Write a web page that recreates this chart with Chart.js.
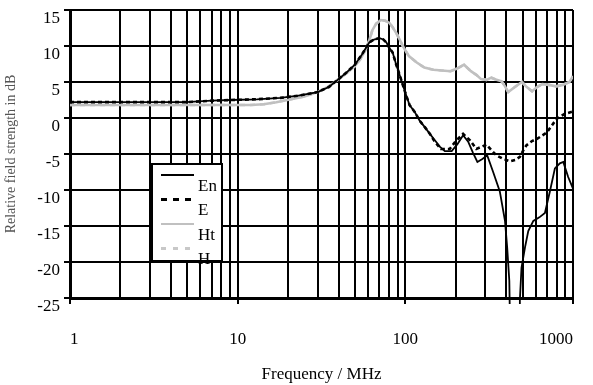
<!DOCTYPE html>
<html>
<head>
<meta charset="utf-8">
<script src="https://cdn.jsdelivr.net/npm/chart.js@4"></script>
<style>
html, body { margin: 0; padding: 0; background: #fff; }
#wrap { width: 593px; height: 385px; position: relative; }
</style>
</head>
<body>
<div id="wrap"><canvas id="fieldChart"></canvas></div>
<script>
// frequencies in MHz, levels in dB
const enFreq = [1, 2, 3, 4.9, 7, 9, 13, 18, 23, 30, 35, 40, 45, 50, 55, 61, 65, 70, 74, 77, 81, 84, 88, 93, 100, 106, 114, 122, 131, 140, 150, 161, 172, 189, 205, 221, 237, 253, 269, 288, 308, 334, 366, 393, 405, 417, 422, 450, 478, 482, 493, 517, 541, 580, 630, 680, 728, 780, 835, 875, 936, 1000];
const enVals = [2.2, 2.2, 2.2, 2.2, 2.4, 2.5, 2.6, 2.8, 3.1, 3.6, 4.3, 5.4, 6.4, 7.4, 8.8, 10.5, 10.9, 11.1, 10.9, 10.5, 9.6, 9.1, 7.5, 5.8, 3.5, 1.8, 0.8, -0.4, -1.3, -2.2, -3.1, -4.0, -4.6, -4.6, -3.6, -2.4, -3.3, -4.8, -6.1, -5.7, -5.2, -7.5, -10.2, -14.3, -18.0, -22.6, -30, -30, -30, -25.3, -20.8, -18.0, -15.7, -14.3, -13.8, -13.2, -10.2, -7.0, -6.3, -6.1, -8.2, -9.8];

const eFreq = [1, 2, 3, 4.9, 7, 9, 13, 18, 23, 30, 35, 40, 45, 50, 55, 61, 65, 70, 74, 77, 81, 84, 88, 93, 100, 106, 114, 122, 131, 140, 150, 163, 184, 200, 221, 243, 265, 285, 305, 330, 350, 385, 421, 455, 482, 505, 527, 570, 610, 700, 750, 800, 890, 1000];
const eVals = [2.2, 2.2, 2.2, 2.2, 2.4, 2.5, 2.6, 2.8, 3.1, 3.6, 4.3, 5.4, 6.4, 7.4, 8.8, 10.5, 10.9, 11.1, 10.9, 10.5, 9.6, 9.1, 7.5, 5.8, 3.5, 1.8, 0.8, -0.4, -1.3, -2.2, -3.3, -4.3, -4.3, -3.2, -2.2, -3.1, -4.3, -4.0, -3.7, -4.6, -5.2, -5.7, -6.0, -5.8, -5.4, -4.5, -3.8, -3.2, -2.9, -2.0, -1.0, -0.1, 0.55, 0.9];

const htFreq = [1, 2, 4, 8, 12, 14.3, 17, 20.8, 25, 30, 35, 40, 45, 50, 54, 58, 61, 63.6, 67, 71.5, 76, 80.4, 84, 88.3, 93, 97, 105, 117, 130, 147, 165, 186, 205, 224, 246, 265, 283, 305, 326, 350, 375, 393, 411, 450, 496, 530, 570, 610, 656, 720, 791, 870, 953, 1000];
const htVals = [1.8, 1.8, 1.8, 1.8, 1.8, 1.9, 2.2, 2.6, 3.0, 3.6, 4.4, 5.4, 6.3, 7.2, 8.2, 9.5, 10.8, 12.2, 13.1, 13.6, 13.5, 13.2, 12.6, 11.8, 10.8, 9.9, 8.6, 7.7, 7.0, 6.7, 6.6, 6.5, 6.9, 7.4, 6.5, 6.0, 5.4, 5.3, 5.6, 5.3, 5.1, 4.4, 3.6, 4.3, 5.0, 4.3, 3.7, 4.3, 4.7, 4.6, 4.4, 4.6, 5.0, 5.8];

// H sits under Ht in the picture
const hFreq = htFreq;
const hVals = htVals;

const xGridValues = [1, 2, 3, 4, 5, 6, 7, 8, 9, 10, 20, 30, 40, 50, 60, 70, 80, 90, 100, 200, 300, 400, 500, 600, 700, 800, 900, 1000];
const xTickValues = [1, 10, 100, 1000];
const xTickLabels = ['1', '10', '100', '1000'];
const yTickValues = [-25, -20, -15, -10, -5, 0, 5, 10, 15];

Chart.defaults.font.family = "'Liberation Serif', 'Times New Roman', serif";
Chart.defaults.color = '#000';

function toPoints(freqs, vals) {
    return freqs.map((f, i) => ({ x: f, y: vals[i] }));
}

const lineClip = { left: 0, top: 0, right: 0, bottom: 6 };

// legend box drawn inside the plot, like the original
const boxLegend = {
    id: 'boxLegend',
    afterDatasetsDraw(chart) {
        const ctx = chart.ctx;
        const left = chart.chartArea.left + 82;
        const top = chart.chartArea.top + 154;
        const w = 70, h = 97;
        ctx.save();
        ctx.fillStyle = '#fff';
        ctx.fillRect(left, top, w, h);
        ctx.strokeStyle = '#000';
        ctx.lineWidth = 2;
        ctx.strokeRect(left, top, w, h);
        ctx.font = "17px 'Liberation Serif'";
        ctx.textBaseline = 'middle';
        ctx.textAlign = 'left';
        chart.data.datasets.forEach((ds, i) => {
            const ly = top + 11 + i * 24.5;
            ctx.beginPath();
            ctx.strokeStyle = ds.borderColor;
            ctx.lineWidth = ds.legendWidth;
            ctx.setLineDash(ds.legendDash);
            ctx.moveTo(left + 9, ly);
            ctx.lineTo(left + 42, ly);
            ctx.stroke();
            ctx.setLineDash([]);
            ctx.fillStyle = '#000';
            ctx.fillText(ds.label, left + 46, ly + 11.5);
        });
        ctx.restore();
    }
};

const fieldChart = new Chart(document.getElementById('fieldChart'), {
    type: 'line',
    data: {
        datasets: [
            {
                label: 'En',
                data: toPoints(enFreq, enVals),
                borderColor: '#000',
                borderWidth: 1.8,
                legendWidth: 2,
                legendDash: [],
                clip: lineClip
            },
            {
                label: 'E',
                data: toPoints(eFreq, eVals),
                borderColor: '#000',
                borderWidth: 2.6,
                borderDash: [4, 3],
                legendWidth: 3,
                legendDash: [6, 6],
                clip: lineClip
            },
            {
                label: 'Ht',
                data: toPoints(htFreq, htVals),
                borderColor: '#c0c0c0',
                borderWidth: 2.6,
                legendWidth: 2,
                legendDash: [],
                clip: lineClip
            },
            {
                label: 'H',
                data: toPoints(hFreq, hVals),
                borderColor: '#c8c8c8',
                borderWidth: 2.6,
                borderDash: [5, 5],
                legendWidth: 3,
                legendDash: [5, 7],
                clip: lineClip
            }
        ]
    },
    options: {
        responsive: true,
        maintainAspectRatio: false,
        animation: false,
        devicePixelRatio: 1,
        elements: {
            point: { radius: 0 },
            line: { tension: 0 }
        },
        layout: {
            padding: { left: 0, right: 20, top: 10, bottom: 0 }
        },
        plugins: {
            legend: { display: false },
            tooltip: { enabled: false }
        },
        scales: {
            x: {
                type: 'logarithmic',
                min: 1,
                max: 1000,
                afterBuildTicks: scale => {
                    scale.ticks = xGridValues.map(v => ({ value: v }));
                },
                afterFit: scale => {
                    scale.height = 87;
                    scale.paddingLeft = 0;
                    scale.paddingRight = 0;
                },
                ticks: {
                    autoSkip: false,
                    maxRotation: 0,
                    minRotation: 0,
                    align: 'inner',
                    padding: 25,
                    font: { size: 17 },
                    callback: value => {
                        const idx = xTickValues.indexOf(value);
                        return idx >= 0 ? xTickLabels[idx] : '';
                    }
                },
                grid: {
                    color: '#000',
                    lineWidth: 2,
                    tickLength: 6,
                    tickColor: ctx => (ctx.tick && xTickValues.includes(ctx.tick.value)) ? '#000' : 'rgba(0,0,0,0)'
                },
                border: { color: '#000', width: 3 },
                title: {
                    display: true,
                    text: 'Frequency / MHz',
                    font: { size: 17 },
                    padding: { top: 0, bottom: 0 }
                }
            },
            y: {
                type: 'linear',
                min: -25,
                max: 15,
                afterBuildTicks: scale => {
                    scale.ticks = yTickValues.map(v => ({ value: v }));
                },
                afterFit: scale => {
                    scale.width = 70;
                    scale.paddingTop = 0;
                    scale.paddingBottom = 0;
                },
                ticks: {
                    padding: 4,
                    labelOffset: 9,
                    font: { size: 17 }
                },
                grid: {
                    color: '#000',
                    lineWidth: 2,
                    tickLength: 6
                },
                border: { color: '#000', width: 3 },
                title: {
                    display: true,
                    text: 'Relative field strength in dB',
                    color: '#555',
                    font: { size: 14 },
                    padding: { top: 3, bottom: 0 }
                }
            }
        }
    },
    plugins: [boxLegend]
});
</script>
</body>
</html>
